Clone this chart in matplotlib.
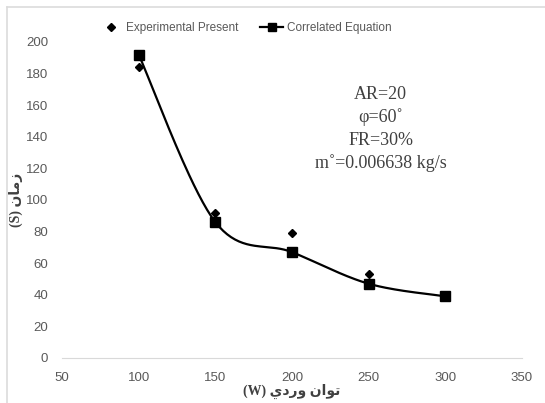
import numpy as np
import matplotlib.pyplot as plt
from matplotlib.lines import Line2D

# data
power = [100, 150, 200, 250, 300]
experimental = [184, 92, 79, 53, 39]
correlated = [192, 86, 67, 47, 39]

x_ticks = [50, 100, 150, 200, 250, 300, 350]
y_ticks = list(range(0, 201, 20))

notes = ["AR=20", "\u03c6=60\u02da", "FR=30%", "m\u02da=0.006638 kg/s"]

# persian labels written in shaped presentation forms, visual order
ylab = "(S) \uFEE5\uFE8E\uFEE3\uFEAF"
xlab = "(W) \uFEF1\uFEA9\uFEAD\uFEED \uFEE5\uFE8D\uFEEE\uFE97"


def smooth(xs, ys, n=40):
    # excel-like smoothed line: catmull-rom through the points
    xs = np.asarray(xs, float)
    ys = np.asarray(ys, float)
    px = np.concatenate([[xs[0]], xs, [xs[-1]]])
    py = np.concatenate([[ys[0]], ys, [ys[-1]]])
    outx, outy = [], []
    t = np.linspace(0, 1, n)
    for i in range(1, len(px) - 2):
        p0, p1, p2, p3 = px[i-1], px[i], px[i+1], px[i+2]
        q0, q1, q2, q3 = py[i-1], py[i], py[i+1], py[i+2]
        c1x, c1y = p1 + (p2 - p0) / 6, q1 + (q2 - q0) / 6
        c2x, c2y = p2 - (p3 - p1) / 6, q2 - (q3 - q1) / 6
        bx = (1-t)**3*p1 + 3*(1-t)**2*t*c1x + 3*(1-t)*t**2*c2x + t**3*p2
        by = (1-t)**3*q1 + 3*(1-t)**2*t*c1y + 3*(1-t)*t**2*c2y + t**3*q2
        outx.extend(bx)
        outy.extend(by)
    return outx, outy


plt.rcParams['font.family'] = ['Liberation Sans', 'DejaVu Sans']

fig = plt.figure(figsize=(5.45, 4.03), dpi=100)
ax = fig.add_axes([0.1138, 0.1117, 0.844, 0.7841])

sx, sy = smooth(power, correlated)
ax.plot(sx, sy, color='black', lw=1.6, zorder=2)
ax.plot(power, correlated, linestyle='none', marker='s', ms=7.5, color='black', zorder=3)
ax.plot(power, experimental, linestyle='none', marker='D', ms=4.5, color='black', zorder=4)

ax.set_xlim(50, 350)
ax.set_ylim(0, 200)
ax.set_xticks(x_ticks)
ax.set_yticks(y_ticks)
for s in ['top', 'right', 'left']:
    ax.spines[s].set_visible(False)
ax.spines['bottom'].set_color('#d9d9d9')
ax.tick_params(length=0, labelsize=9.5, colors='#595959')
ax.tick_params(axis='y', pad=10)
ax.tick_params(axis='x', pad=10)

ax.set_ylabel(ylab, family=['Liberation Serif', 'DejaVu Sans'], fontweight='bold',
              fontsize=10, color='#404040', labelpad=2)
ax.set_xlabel(xlab, family=['Liberation Serif', 'DejaVu Sans'], fontweight='bold',
              fontsize=10, color='#404040', labelpad=0)

for i, s in enumerate(notes):
    ax.text(0.693, 0.835 - i * 0.073, s, transform=ax.transAxes, ha='center', va='center',
            family='Liberation Serif', fontsize=13, color='#404040')

handles = [Line2D([], [], linestyle='none', marker='D', ms=4, color='black'),
           Line2D([], [], color='black', lw=1.6, marker='s', ms=6)]
fig.legend(handles, ['Experimental Present', 'Correlated Equation'], loc='center',
           bbox_to_anchor=(0.45, 0.93), ncol=2, frameon=False, fontsize=8.5,
           labelcolor='#595959', handlelength=2, columnspacing=1.8, handletextpad=0.3)

# outer chart frame (light grey, top and left visible)
fig.add_artist(Line2D([7/545, 1], [1 - 7/403, 1 - 7/403], color='#dcdcdc', lw=1.2,
                      transform=fig.transFigure))
fig.add_artist(Line2D([7/545, 7/545], [0, 1 - 7/403], color='#dcdcdc', lw=1.2,
                      transform=fig.transFigure))

fig.savefig('out.png', dpi=100)
